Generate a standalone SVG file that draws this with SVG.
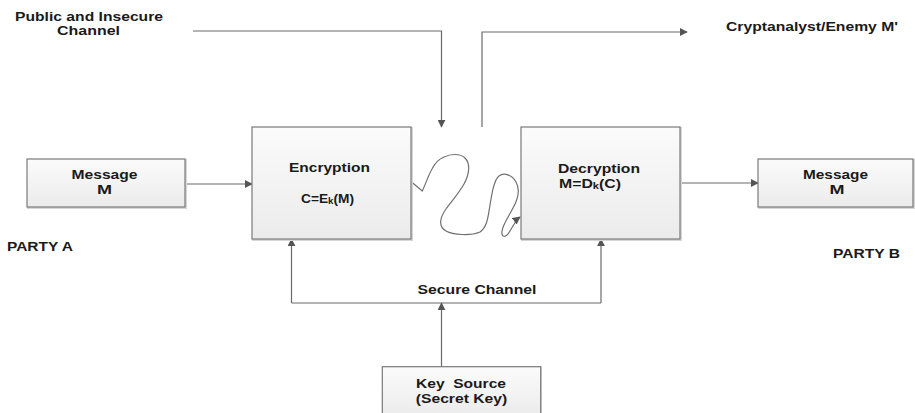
<svg xmlns="http://www.w3.org/2000/svg" width="915" height="413" viewBox="0 0 915 413">
  <defs>
    <linearGradient id="boxFill" x1="0" y1="0" x2="0" y2="1">
      <stop offset="0" stop-color="#fbfbfb"/>
      <stop offset="1" stop-color="#ebebeb"/>
    </linearGradient>
    <marker id="arrow" viewBox="0 0 10 10" refX="9" refY="5" markerWidth="8" markerHeight="8" markerUnits="userSpaceOnUse" orient="auto">
      <path d="M0,0 L10,5 L0,10 Z" fill="#555"/>
    </marker>
  </defs>
  <style>
    .box { fill: url(#boxFill); stroke: #7a7a7a; stroke-width: 1.2; }
    .shadow { fill: none; stroke: #d6d6d6; stroke-width: 2; }
    .lbl { font-family: "Liberation Sans", Arial, sans-serif; font-weight: bold; font-size: 13.5px; fill: #1a1a1a; }
    .mid { text-anchor: middle; }
    .wire { fill: none; stroke: #6a6a6a; stroke-width: 1.2; }
    .wave { fill: none; stroke: #707070; stroke-width: 1.2; }
  </style>
  <rect width="915" height="413" fill="#ffffff"/>

  <!-- free labels -->
  <g id="labels">
    <text class="lbl mid" x="89" y="20.5" textLength="148" lengthAdjust="spacingAndGlyphs">Public and Insecure</text>
    <text class="lbl mid" x="88.5" y="35" textLength="63" lengthAdjust="spacingAndGlyphs">Channel</text>
    <text class="lbl" x="726" y="31" textLength="172" lengthAdjust="spacingAndGlyphs">Cryptanalyst/Enemy M'</text>
    <text class="lbl" x="7" y="251" textLength="66" lengthAdjust="spacingAndGlyphs">PARTY A</text>
    <text class="lbl" x="833" y="258" textLength="67" lengthAdjust="spacingAndGlyphs">PARTY B</text>
    <text class="lbl mid" x="477" y="294" textLength="119" lengthAdjust="spacingAndGlyphs">Secure Channel</text>
  </g>

  <!-- connectors -->
  <g id="connectors">
    <path class="wire" d="M185,184 H252" marker-end="url(#arrow)"/>
    <path class="wire" d="M680,183 H758" marker-end="url(#arrow)"/>
    <path class="wire" d="M193,31 H441.5 V127" marker-end="url(#arrow)"/>
    <path class="wire" d="M482,127 V32 H687" marker-end="url(#arrow)"/>
    <path class="wire" d="M291.5,303 V239"  marker-end="url(#arrow)"/>
    <path class="wire" d="M601,303 V239" marker-end="url(#arrow)"/>
    <path class="wire" d="M291.5,303 H601"/>
    <path class="wire" d="M441.5,366.5 V303" marker-end="url(#arrow)"/>
    <!-- wavy channel between the two cipher boxes -->
    <path class="wave" marker-end="url(#arrow)" d="M411,181.5 L422.3,191 C426,183 429,174 432,169 C435,163 439,159 444,157 C450,154 460,153 465,158 C471,164 469,175 464,184 C459,193 451,202 446,209 C441,216 437,226 446,231 C453,235 471,236 480,232 C487,227 488,218 490,205 C492,193 494,180 499,176 C504,172 512,175 516,182 C520,189 518,199 513,208 C509,216 503,224 502,231 C501,238 506,238 510,231 C513,226 516,220 520,217"/>
  </g>

  <g id="msgA">
    <rect class="shadow" x="28" y="160" width="158" height="48"/>
    <rect class="box" x="27" y="159" width="158" height="48"/>
    <text class="lbl mid" x="104.5" y="179" textLength="66" lengthAdjust="spacingAndGlyphs">Message</text>
    <text class="lbl mid" x="104.5" y="194" textLength="15" lengthAdjust="spacingAndGlyphs">M</text>
  </g>

  <g id="encryption">
    <rect class="shadow" x="253" y="128" width="159" height="112"/>
    <rect class="box" x="252" y="127" width="159" height="112"/>
    <text class="lbl mid" x="329.5" y="172" textLength="81" lengthAdjust="spacingAndGlyphs">Encryption</text>
    <text class="lbl" x="301" y="203" textLength="53" lengthAdjust="spacingAndGlyphs">C=E<tspan font-size="9.5" dy="1">k</tspan><tspan dy="-1">(M)</tspan></text>
  </g>

  <g id="decryption">
    <rect class="shadow" x="522" y="128" width="159" height="112"/>
    <rect class="box" x="521" y="127" width="159" height="112"/>
    <text class="lbl mid" x="599" y="173" textLength="82" lengthAdjust="spacingAndGlyphs">Decryption</text>
    <text class="lbl" x="559" y="188.3" textLength="62" lengthAdjust="spacingAndGlyphs">M=D<tspan font-size="9.5" dy="1">k</tspan><tspan dy="-1">(C)</tspan></text>
  </g>

  <g id="msgB">
    <rect class="shadow" x="759" y="160" width="155" height="48"/>
    <rect class="box" x="758" y="159" width="155" height="48"/>
    <text class="lbl mid" x="835.5" y="179" textLength="65" lengthAdjust="spacingAndGlyphs">Message</text>
    <text class="lbl mid" x="837" y="194" textLength="15" lengthAdjust="spacingAndGlyphs">M</text>
  </g>

  <g id="keySource">
    <rect class="shadow" x="383" y="367.5" width="158" height="50"/>
    <rect class="box" x="382.3" y="366.7" width="158.4" height="50"/>
    <text class="lbl mid" x="461" y="387.7" textLength="90" lengthAdjust="spacingAndGlyphs" xml:space="preserve">Key  Source</text>
    <text class="lbl mid" x="461.5" y="403.3" textLength="91.5" lengthAdjust="spacingAndGlyphs">(Secret Key)</text>
  </g>
</svg>
